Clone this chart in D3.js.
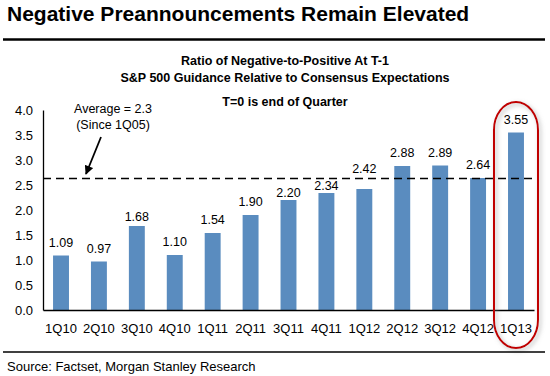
<!DOCTYPE html>
<html>
<head>
<meta charset="utf-8">
<script src="https://cdn.jsdelivr.net/npm/d3@7"></script>
<style>
  html, body { margin:0; padding:0; background:#fff; }
  svg { display:block; font-family: Arial, "Liberation Sans", sans-serif; }
</style>
</head>
<body>
<div id="chart"></div>
<script>
const quarters = ["1Q10","2Q10","3Q10","4Q10","1Q11","2Q11","3Q11","4Q11","1Q12","2Q12","3Q12","4Q12","1Q13"];
const ratios   = [1.09, 0.97, 1.68, 1.10, 1.54, 1.90, 2.20, 2.34, 2.42, 2.88, 2.89, 2.64, 3.55];
const yTicks   = [0, 0.5, 1, 1.5, 2, 2.5, 3, 3.5, 4];
const avgLine  = 2.63;   // where the dashed line sits on the chart
const subtitle = ["Ratio of Negative-to-Positive At T-1",
                  "S&P 500 Guidance Relative to Consensus Expectations",
                  "T=0 is end of Quarter"];
const avgNote  = ["Average = 2.3", "(Since 1Q05)"];
const highlight = "1Q13";

// label gap above bar (a few were nudged by hand in the original)
const labelGap = {"1Q12": 16, "3Q11": 3, "4Q11": 3, "3Q10": 5};

const width = 550, height = 376;
const svg = d3.select("#chart").append("svg")
  .attr("width", width).attr("height", height);

const defs = svg.append("defs");
const shadow = defs.append("filter").attr("id","shadow")
  .attr("x","-50%").attr("y","-10%").attr("width","200%").attr("height","120%");
shadow.append("feDropShadow")
  .attr("dx",2).attr("dy",2).attr("stdDeviation",2)
  .attr("flood-color","#888").attr("flood-opacity",0.6);
defs.append("marker").attr("id","arrow")
  .attr("viewBox","0 0 10 10").attr("refX",9).attr("refY",5)
  .attr("markerUnits","userSpaceOnUse")
  .attr("markerWidth",10).attr("markerHeight",9)
  .attr("orient","auto")
  .append("path").attr("d","M0,0 L10,5 L0,10 z").attr("fill","#000");

// header
svg.append("text").attr("x",7).attr("y",21)
  .attr("font-size",21).attr("font-weight","bold")
  .text("Negative Preannouncements Remain Elevated");
svg.append("line").attr("x1",3).attr("x2",545).attr("y1",39.5).attr("y2",39.5)
  .attr("stroke","#000").attr("stroke-width",2.5);

svg.selectAll("text.sub").data(subtitle).join("text")
  .attr("class","sub")
  .attr("x",285).attr("y",(d,i)=>[65,82,106][i])
  .attr("text-anchor","middle").attr("font-size",12.5).attr("font-weight","bold")
  .text(d=>d);

// scales
const x = d3.scaleBand().domain(quarters).range([43,534])
  .paddingInner(0.58).paddingOuter(0.265);
const y = d3.scaleLinear().domain([0,4]).range([310,110]);

// bars
svg.selectAll("rect.bar").data(quarters).join("rect")
  .attr("class","bar")
  .attr("x", d=>x(d))
  .attr("width", x.bandwidth())
  .attr("y", (d,i)=>y(ratios[i]))
  .attr("height", (d,i)=>y(0)-y(ratios[i]))
  .attr("fill","#5a8cbf");

// dashed average line
svg.append("line")
  .attr("x1",43).attr("x2",534)
  .attr("y1",y(avgLine)).attr("y2",y(avgLine))
  .attr("stroke","#000").attr("stroke-width",1.3)
  .attr("stroke-dasharray","8,5");

// value labels
svg.selectAll("text.val").data(quarters).join("text")
  .attr("class","val")
  .attr("x", d=>x(d)+x.bandwidth()/2)
  .attr("y", (d,i)=>y(ratios[i]) - (labelGap[d] ?? 9))
  .attr("text-anchor","middle").attr("font-size",12.5)
  .text((d,i)=>ratios[i].toFixed(2));

// axes
const yAxis = svg.append("g").attr("transform","translate(43,0)")
  .call(d3.axisLeft(y).tickValues(yTicks).tickFormat(d3.format(".1f"))
    .tickSizeInner(0).tickSizeOuter(0).tickPadding(10));
yAxis.selectAll("text").attr("font-size",13).attr("font-family",null).attr("fill","#000");
yAxis.select(".domain").attr("stroke","#000").attr("stroke-width",1.3);

const xAxis = svg.append("g").attr("transform","translate(0,310)")
  .call(d3.axisBottom(x).tickSizeInner(0).tickSizeOuter(0).tickPadding(14));
xAxis.selectAll("text").attr("font-size",13).attr("font-family",null).attr("fill","#000");
xAxis.select(".domain").attr("stroke","#000").attr("stroke-width",1.3);
xAxis.selectAll(".tick line").remove();

// average note + arrow
svg.selectAll("text.note").data(avgNote).join("text")
  .attr("class","note")
  .attr("x",113).attr("y",(d,i)=>113+i*16)
  .attr("text-anchor","middle").attr("font-size",12.5)
  .text(d=>d);
svg.append("line")
  .attr("x1",101).attr("y1",137).attr("x2",86).attr("y2",174)
  .attr("stroke","#000").attr("stroke-width",1.8)
  .attr("marker-end","url(#arrow)");

// red highlight around the last quarter
const hx = x(highlight) + x.bandwidth()/2;
svg.append("rect")
  .attr("x", hx-22).attr("width",44)
  .attr("y",102).attr("height",246)
  .attr("rx",22).attr("ry",28)
  .attr("fill","none").attr("stroke","#c00000").attr("stroke-width",2)
  .attr("filter","url(#shadow)");

// footer
svg.append("line").attr("x1",3).attr("x2",545).attr("y1",352).attr("y2",352)
  .attr("stroke","#000").attr("stroke-width",1.3);
svg.append("text").attr("x",7).attr("y",371)
  .attr("font-size",13)
  .text("Source: Factset, Morgan Stanley Research");
</script>
</body>
</html>
